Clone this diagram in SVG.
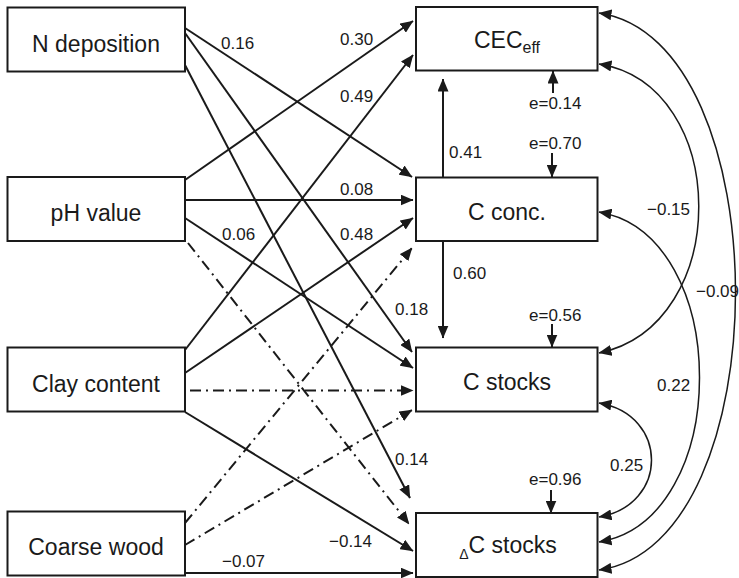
<svg xmlns="http://www.w3.org/2000/svg" width="739" height="578" viewBox="0 0 739 578">
<style>
.box{fill:#fff;stroke:#1a1a1a;stroke-width:2}
.nt{font-family:"Liberation Sans",Arial,sans-serif;font-size:23px;fill:#1a1a1a;text-anchor:middle}
.lb{font-family:"Liberation Sans",Arial,sans-serif;font-size:17px;fill:#1a1a1a}
.ar{fill:none;stroke:#1a1a1a;stroke-width:2;marker-end:url(#ah)}
.dd{stroke-dasharray:11,5,2,5}
.cv{fill:none;stroke:#1a1a1a;stroke-width:1.5;marker-start:url(#ah);marker-end:url(#ah)}
</style>
<defs>
<marker id="ah" viewBox="0 0 13 11" refX="12.5" refY="5.5" markerWidth="13" markerHeight="11" markerUnits="userSpaceOnUse" orient="auto-start-reverse">
<path d="M0,0 L13,5.5 L0,11 z" fill="#1a1a1a"/>
</marker>
</defs>
<rect width="739" height="578" fill="#fff"/>
<g id="connectors">
<path class="ar" d="M185,28 L412,177"/>
<path class="ar" d="M185,33 L412,352"/>
<path class="ar" d="M185,65 L410,498"/>
<path class="ar" d="M185,180 L413,21"/>
<path class="ar" d="M185,200 L413,200"/>
<path class="ar" d="M185,218 L413,368"/>
<path class="ar" d="M185,350 L413,55"/>
<path class="ar" d="M185,373 L413,218"/>
<path class="ar" d="M185,412 L413,551"/>
<path class="ar" d="M185,573 L413,573"/>
<path class="ar dd" d="M188,243 L409,524"/>
<path class="ar dd" d="M190,390.5 L413,390.5"/>
<path class="ar dd" d="M185,523 L412,248"/>
<path class="ar dd" d="M185,545 L412,410"/>
<path class="ar" d="M443,177.5 L443,79"/>
<path class="ar" d="M443,241 L443,338"/>
<path class="ar" d="M553,93 L553,71"/>
<path class="ar" d="M552,153 L552,177"/>
<path class="ar" d="M552,324 L552,347"/>
<path class="ar" d="M551,490 L551,513"/>
<path class="cv" d="M599,13 C781,40 781,545 599,570"/>
<path class="cv" d="M599,64 C731,85 733,325 599,353"/>
<path class="cv" d="M599,212 C733,235 733,520 599,542"/>
<path class="cv" d="M599,403 C669,415 669,505 599,517"/>
<text class="lb" x="221" y="49">0.16</text>
<text class="lb" x="340" y="45">0.30</text>
<text class="lb" x="340" y="102">0.49</text>
<text class="lb" x="340" y="195">0.08</text>
<text class="lb" x="222" y="240">0.06</text>
<text class="lb" x="340" y="240">0.48</text>
<text class="lb" x="395" y="315">0.18</text>
<text class="lb" x="395" y="465">0.14</text>
<text class="lb" x="329" y="547">−0.14</text>
<text class="lb" x="222" y="567">−0.07</text>
<text class="lb" x="449" y="158">0.41</text>
<text class="lb" x="453" y="279">0.60</text>
<text class="lb" x="529" y="109">e=0.14</text>
<text class="lb" x="529" y="149">e=0.70</text>
<text class="lb" x="529" y="321">e=0.56</text>
<text class="lb" x="529" y="485">e=0.96</text>
<text class="lb" x="647" y="215">−0.15</text>
<text class="lb" x="696" y="297">−0.09</text>
<text class="lb" x="657" y="391">0.22</text>
<text class="lb" x="610" y="471">0.25</text>
</g>
<g id="n-deposition"><rect class="box" x="7.5" y="7.5" width="177.5" height="64"/><text class="nt" x="96" y="51.5">N deposition</text></g>
<g id="ph-value"><rect class="box" x="7.5" y="177" width="177.5" height="64"/><text class="nt" x="96" y="221">pH value</text></g>
<g id="clay-content"><rect class="box" x="7.5" y="347.5" width="177.5" height="64"/><text class="nt" x="96" y="391.5">Clay content</text></g>
<g id="coarse-wood"><rect class="box" x="7.5" y="511.5" width="177.5" height="64"/><text class="nt" x="96" y="554.5">Coarse wood</text></g>
<g id="cec-eff"><rect class="box" x="416" y="7" width="181.5" height="63.5"/><text class="nt" x="507" y="48">CEC<tspan font-size="16" dy="5">eff</tspan></text></g>
<g id="c-conc"><rect class="box" x="416" y="177.5" width="181.5" height="63.5"/><text class="nt" x="507" y="220">C conc.</text></g>
<g id="c-stocks"><rect class="box" x="416" y="347.5" width="181.5" height="64"/><text class="nt" x="507" y="390">C stocks</text></g>
<g id="delta-c-stocks"><rect class="box" x="416" y="513" width="181.5" height="64"/><text class="nt" x="508" y="553"><tspan font-size="14" dy="6">Δ</tspan><tspan dy="-6">C stocks</tspan></text></g>
</svg>
